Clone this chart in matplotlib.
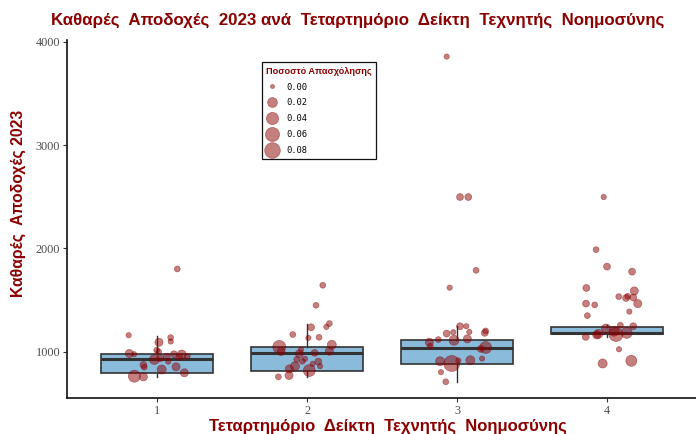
import numpy as np
import matplotlib
matplotlib.use("Agg")
import matplotlib.pyplot as plt
from matplotlib.lines import Line2D

# Net earnings 2023 per AI-index quartile, with employment share per point
quartiles = [1, 2, 3, 4]

# box statistics (whisker low, Q1, median, Q3, whisker high)
whisker_lo = [758, 758, 707, 1142]
q1 = [794, 809, 884, 1171]
medians = [923, 984, 1039, 1181]
q3 = [978, 1045, 1109, 1239]
whisker_hi = [1155, 1271, 1245, 1255]

# points: earnings, employment share, horizontal jitter
earn_q1 = [1800, 1158, 1090, 1135, 1097, 1013, 981, 974, 923, 935, 949, 974,
           971, 945, 955, 903, 871, 848, 826, 852, 794, 761, 755, 997]
share_q1 = [0.002, 0.001, 0.010, 0.002, 0.001, 0.002, 0.010, 0.001, 0.021, 0.005, 0.005, 0.005,
            0.015, 0.005, 0.002, 0.001, 0.005, 0.002, 0.015, 0.010, 0.010, 0.038, 0.010, 0.002]
jit_q1 = [0.135, -0.189, 0.013, 0.091, 0.091, -0.002, -0.185, -0.153, -0.018, 0.02, 0.065, 0.113,
          0.165, 0.149, 0.202, 0.075, -0.091, -0.085, 0.031, 0.127, 0.182, -0.151, -0.091, 0.011]

earn_q2 = [1642, 1448, 1271, 1239, 1235, 1165, 1132, 1138, 1045, 1000, 1065, 1003, 1019,
           978, 987, 923, 929, 906, 903, 881, 858, 858, 832, 816, 768, 755]
share_q2 = [0.002, 0.002, 0.002, 0.001, 0.005, 0.002, 0.001, 0.002, 0.048, 0.010, 0.015, 0.010, 0.001,
            0.010, 0.005, 0.002, 0.001, 0.002, 0.005, 0.001, 0.001, 0.015, 0.010, 0.038, 0.010, 0.002]
jit_q2 = [0.105, 0.06, 0.149, 0.129, 0.027, -0.095, 0.009, 0.08, -0.185, -0.173, 0.165, 0.149, -0.04,
          -0.051, 0.051, -0.069, -0.013, -0.031, 0.075, 0.038, 0.087, -0.08, -0.118, 0.015, -0.12, -0.191]

earn_q3 = [3858, 2497, 2497, 1787, 1619, 1245, 1245, 1187, 1190, 1200, 1181, 1174, 1109,
           1123, 1116, 1090, 1051, 1039, 1026, 884, 906, 916, 913, 932, 800, 707]
share_q3 = [0.001, 0.005, 0.005, 0.002, 0.001, 0.005, 0.001, 0.001, 0.001, 0.002, 0.005, 0.005, 0.021,
            0.010, 0.002, 0.010, 0.002, 0.038, 0.005, 0.085, 0.015, 0.015, 0.001, 0.001, 0.001, 0.002]
jit_q3 = [-0.069, 0.02, 0.075, 0.127, -0.049, 0.02, 0.062, -0.025, 0.082, 0.191, 0.185, -0.069, -0.02,
          0.069, -0.125, -0.185, -0.178, 0.191, 0.158, -0.035, -0.113, 0.089, 0.009, 0.167, -0.107, -0.075]

earn_q4 = [2497, 1987, 1823, 1774, 1616, 1587, 1532, 1519, 1535, 1523, 1464, 1452, 1464, 1387,
           1348, 1255, 1245, 1223, 1197, 1165, 1181, 1171, 1161, 1142, 1022, 884, 910]
share_q4 = [0.001, 0.002, 0.005, 0.005, 0.005, 0.010, 0.002, 0.005, 0.002, 0.005, 0.005, 0.002, 0.010, 0.001,
            0.002, 0.002, 0.005, 0.015, 0.021, 0.059, 0.029, 0.015, 0.010, 0.005, 0.001, 0.015, 0.029]
jit_q4 = [-0.022, -0.073, 0.0, 0.167, -0.138, 0.182, 0.078, 0.127, 0.138, 0.175, -0.14, -0.082, 0.205, 0.149,
          -0.131, 0.089, 0.175, -0.007, 0.047, 0.06, 0.131, -0.058, -0.069, -0.142, 0.08, -0.029, 0.162]

legend_shares = [0.00, 0.02, 0.04, 0.06, 0.08]

DARKRED = "#8B0000"
PT_PER_PX = 72 / 100


def marker_area(share):
    # diameter grows with sqrt(share) so that area tracks the share
    d_px = 4 + 41 * np.sqrt(np.asarray(share, dtype=float))
    return (d_px * PT_PER_PX) ** 2


fig = plt.figure(figsize=(6.96, 4.34), dpi=100)
ax = fig.add_axes([0.0963, 0.083, 0.903, 0.824])

stats = []
for i in range(4):
    stats.append(dict(whislo=whisker_lo[i], q1=q1[i], med=medians[i],
                      q3=q3[i], whishi=whisker_hi[i], fliers=[]))
ax.bxp(stats, positions=quartiles, widths=0.75, patch_artist=True,
       showcaps=False, showfliers=False,
       boxprops=dict(facecolor="#8BBBDB", edgecolor="#333333", linewidth=1.2),
       medianprops=dict(color="#333333", linewidth=2.2),
       whiskerprops=dict(color="#333333", linewidth=1.0),
       zorder=2)

groups = [(earn_q1, share_q1, jit_q1), (earn_q2, share_q2, jit_q2),
          (earn_q3, share_q3, jit_q3), (earn_q4, share_q4, jit_q4)]
for q, (earn, share, jit) in zip(quartiles, groups):
    xs = q + np.array(jit)
    ax.scatter(xs, earn, s=marker_area(share), color=DARKRED, alpha=0.5,
               edgecolors=DARKRED, linewidths=0.5, zorder=3)

ax.set_xlim(0.4, 4.59)
ax.set_ylim(550, 4015)
ax.set_xticks(quartiles)
ax.set_yticks([1000, 2000, 3000, 4000])
for lab in ax.get_xticklabels() + ax.get_yticklabels():
    lab.set_family("Liberation Serif")
    lab.set_fontsize(8.8)
    lab.set_color("#4D4D4D")
ax.tick_params(length=3, width=0.8, color="#333333", pad=2)

for side in ["top", "right"]:
    ax.spines[side].set_visible(False)
for side in ["left", "bottom"]:
    ax.spines[side].set_linewidth(1.2)
    ax.spines[side].set_color("#111111")

ax.set_xlabel("Τεταρτημόριο  Δείκτη  Τεχνητής  Νοημοσύνης", family="Liberation Sans",
              weight="bold", color=DARKRED, fontsize=12)
ax.xaxis.set_label_coords(0.51, -0.08)
ax.xaxis.label.set_va("center")
ax.set_ylabel("Καθαρές  Αποδοχές 2023", family="Liberation Sans",
              weight="bold", color=DARKRED, fontsize=11.3)
ax.yaxis.set_label_coords(-0.077, 0.545)
ax.yaxis.label.set_va("center")

fig.text(358 / 696, 1 - 20 / 434,
         "Καθαρές  Αποδοχές  2023 ανά  Τεταρτημόριο  Δείκτη  Τεχνητής  Νοημοσύνης",
         ha="center", va="center", family="Liberation Sans", weight="bold",
         color=DARKRED, fontsize=12.2)

handles = [Line2D([], [], linestyle="none", marker="o",
                  markersize=np.sqrt(marker_area(v)), color=DARKRED, alpha=0.5,
                  markeredgecolor=DARKRED, markeredgewidth=0.5)
           for v in legend_shares]
leg = ax.legend(handles, [f"{v:.2f}" for v in legend_shares],
                title="Ποσοστό Απασχόλησης", loc="upper left",
                bbox_to_anchor=((262 - 67) / 629, (398 - 62) / 358),
                borderaxespad=0, frameon=True, fancybox=False, edgecolor="#111111",
                framealpha=1, borderpad=0.5, labelspacing=0.78,
                handlelength=1.4, handletextpad=0.9,
                prop=dict(family="DejaVu Sans Mono", size=6.3))
leg.get_frame().set_linewidth(0.9)
leg.get_title().set_fontfamily("Liberation Sans")
leg.get_title().set_fontweight("bold")
leg.get_title().set_fontsize(6.6)
leg.get_title().set_color(DARKRED)
leg._legend_box.align = "left"

fig.savefig("out.png", dpi=100)
